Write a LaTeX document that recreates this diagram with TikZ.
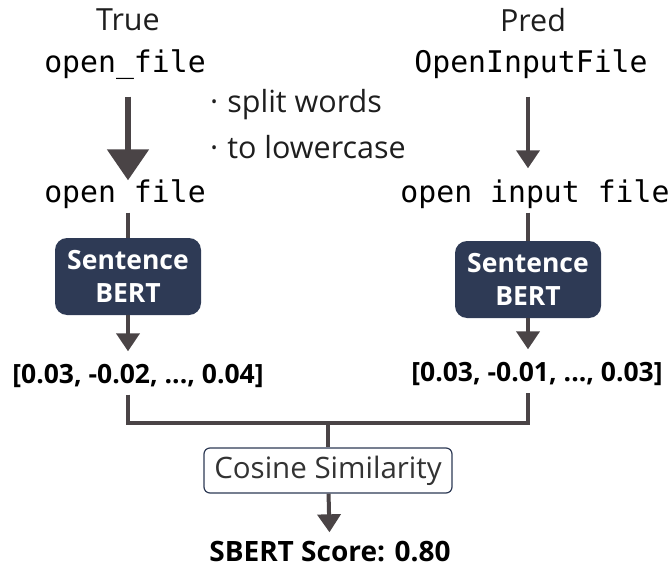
\documentclass[tikz,border=0pt]{standalone}
\usepackage{fontspec}
\setmainfont{Open Sans}
\setmonofont{DejaVu Sans Mono}
\usetikzlibrary{arrows.meta, positioning}
\definecolor{arrowgray}{RGB}{74,68,70}
\definecolor{bertnavy}{RGB}{46,58,85}
\definecolor{textdark}{RGB}{30,30,30}

\begin{document}
\begin{tikzpicture}[
    x=1pt, y=-1pt,
    plain/.style={inner sep=0pt, text=textdark, font=\fontsize{30.5}{36}\selectfont},
    code/.style={inner sep=0pt, text height=22pt, text depth=7pt, text=black, font=\ttfamily\fontsize{29.8}{34}\selectfont},
    model/.style={rectangle, rounded corners=12pt, fill=bertnavy, text=white, align=center, inner sep=0pt, minimum width=146pt, minimum height=77pt, font=\bfseries\fontsize{26.5}{33}\selectfont},
    vector/.style={inner sep=0pt, text height=19pt, text depth=6pt, text=black, font=\bfseries\fontsize{26.5}{30}\selectfont},
    simbox/.style={rectangle, rounded corners=6pt, draw=bertnavy, line width=1.2pt, fill=white, text=black!80, inner sep=0pt, minimum width=248pt, minimum height=45pt, font=\fontsize{29.5}{34}\selectfont},
    link/.style={draw=arrowgray, line width=4pt},
    flow/.style={link, -{Triangle[width=23pt,length=18pt]}},
    bigflow/.style={draw=arrowgray, line width=5.5pt, -{Triangle[width=41pt,length=31pt]}}
]
    \useasboundingbox (0,0) rectangle (671,572);

    % Ground truth column
    \node[plain] (truelab) at (128,20) {True};
    \node[code] (truecode) at (125,65) {open\_file};
    \node[code] (truewords) at (125,195) {open file};
    \node[model] (truebert) at (128,276.5) {Sentence\\BERT};
    \node[vector] (truevec) at (138,377) {[0.03, -0.02, ..., 0.04]};

    % Prediction column
    \node[plain] (predlab) at (533,20) {Pred};
    \node[code] (predcode) at (531,65) {OpenInputFile};
    \node[code] (predwords) at (535,195) {open input file};
    \node[model] (predbert) at (528,279.5) {Sentence\\BERT};
    \node[vector] (predvec) at (537,375) {[0.03, -0.01, ..., 0.03]};

    % Normalisation steps
    \node[plain, anchor=west] (splitnote) at (210,105) {·\hspace{9pt}split words};
    \node[plain, anchor=west] (lowernote) at (210,147) {·\hspace{9pt}to lowercase};

    % Similarity and score
    \coordinate (join) at (328,423);
    \node[simbox] (cosine) at (328,470.5) {Cosine Similarity};
    \node[vector, font=\bfseries\fontsize{28}{30}\selectfont] (score) at (330,555) {SBERT Score: 0.80};

    % Connectors
    \draw[bigflow, shorten <=17pt] (truecode.south -| truebert) -- (truewords.north -| truebert);
    \draw[flow, shorten <=17pt, shorten >=12pt] (predcode.south -| predbert) -- (predwords.north -| predbert);
    \draw[link, shorten <=3pt] (truewords.south -| truebert) -- (truebert);
    \draw[link, shorten <=3pt] (predwords.south -| predbert) -- (predbert);
    \draw[flow, shorten >=13pt] (truebert) -- (truevec.north -| truebert);
    \draw[flow, shorten >=13pt] (predbert) -- (predvec.north -| predbert);
    \draw[link, shorten <=5pt, shorten >=5pt] (truevec.south -| truebert) |- (join) -| (predvec.south -| predbert);
    \draw[link] (join) -- (cosine);
    \draw[flow, shorten >=10pt] (cosine) -- (score);
\end{tikzpicture}
\end{document}
